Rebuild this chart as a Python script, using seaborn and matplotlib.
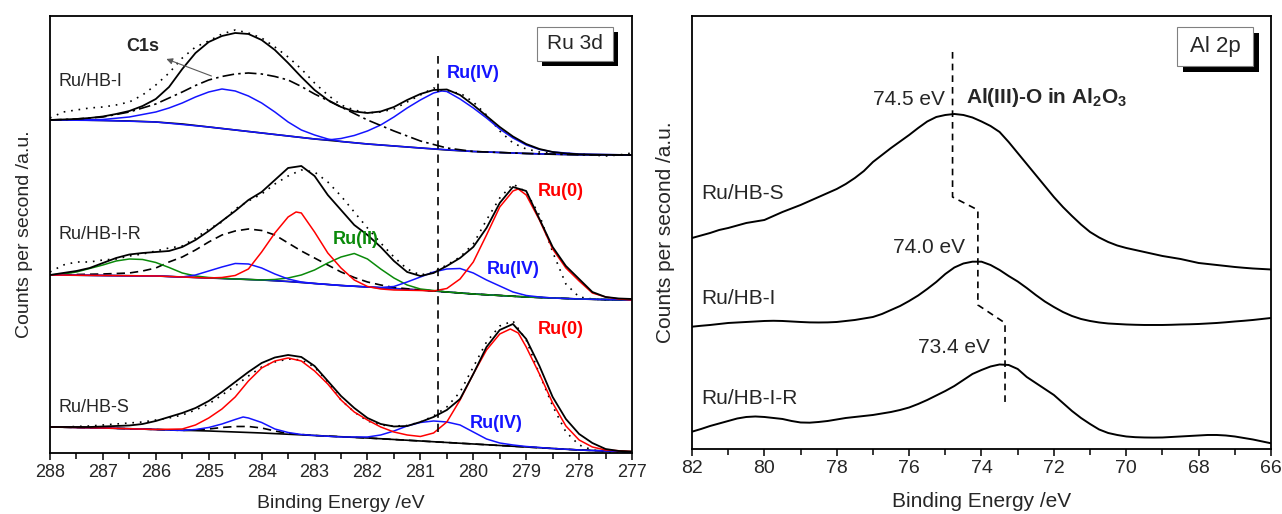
import numpy as np
import matplotlib
matplotlib.use("Agg")
import matplotlib.pyplot as plt
import seaborn as sns
from matplotlib.patches import Rectangle
from matplotlib.ticker import MultipleLocator

# ---------------- Ru 3d (left) ----------------
E_grid = np.linspace(288, 277, 45)   # 0.25 eV sampling of envelopes / raw data

# Ru/HB-I (top spectrum)
I_top_env = [35, 35.5, 36, 37, 38.5, 41, 44, 49, 56, 68, 86, 102, 113, 119, 122, 121, 115, 105, 92, 78,
             65, 55, 48, 43.5, 42, 43.5, 48, 55, 61, 65, 65.5, 60, 50, 39, 28, 18.5, 11, 6, 3, 1.5,
             0.7, 0.4, 0.2, 0.1, 0]
I_top_raw = [37, 43, 45, 47, 48, 50, 53, 60, 70, 82, 97, 108, 114, 121, 125, 122, 117, 108, 98, 86,
             72, 60, 50, 45, 42, 43, 46, 53, 60, 67, 63, 62, 53, 40, 24, 12, 6, 3, 2, 1.5,
             1, 0, -1, 0, 2]
E_top_bg = [288, 287.5, 287, 286.5, 286, 285.5, 285, 284.5, 284, 283.5, 283, 282.5, 282, 281.5, 281,
            280.5, 280, 279.5, 279, 278.5, 278, 277.5, 277]
I_top_bg = [35, 35, 34.5, 34, 33, 31, 28, 25, 22, 19, 16, 13.5, 11, 9, 7, 5, 3.5, 2.5, 1.5, 0.7, 0.2, 0, 0]
E_top_c1s = [288, 287.5, 287, 286.5, 286, 285.75, 285.5, 285.25, 285, 284.75, 284.5, 284.25, 284, 283.75,
             283.5, 283.25, 283, 282.75, 282.5, 282, 281.5, 281, 280.5, 280, 279.5, 279, 278, 277]
I_top_c1s = [35, 36, 38, 43, 51, 57, 63, 69.5, 75, 78.5, 81, 82, 81, 78.5, 75, 68.5, 61, 54.5, 48, 35, 24,
             14, 7, 3.5, 2.5, 1.5, 0.2, 0]
E_top_blue1 = [288, 287.5, 287, 286.5, 286, 285.75, 285.5, 285.25, 285, 284.75, 284.5, 284.25, 284, 283.75,
               283.5, 283.25, 283, 282.75, 282.5, 282, 281.5, 281, 280, 279, 278, 277]
I_top_blue1 = [35, 35, 35.5, 38, 43, 47, 52, 58, 63, 66, 64, 59, 52, 43, 33, 25, 20, 16, 13.5, 11, 9, 7,
               3.5, 1.5, 0.2, 0]
E_top_blue2 = [288, 287, 286, 285, 284, 283, 282.75, 282.5, 282.25, 282, 281.75, 281.5, 281.25, 281, 280.75,
               280.6, 280.5, 280.25, 280, 279.75, 279.5, 279.25, 279, 278.75, 278.5, 278, 277]
I_top_blue2 = [35, 34.5, 33, 28, 22, 16, 15, 16.5, 19.5, 24, 30, 38, 47, 55, 62, 64, 63.5, 56, 47, 37, 26,
               17, 10, 5.5, 3, 1, 0]

# Ru/HB-I-R (middle spectrum)
I_mid_env = [25, 27, 29, 32, 37, 42, 45.5, 47, 48, 49, 53, 60, 69, 79, 89, 100, 108, 120, 132, 134,
             124, 105, 90, 75, 65, 53, 39, 28, 24, 27, 34, 42, 53, 72, 97, 113, 109, 81, 53, 34,
             21, 8, 3, 1.5, 1]
I_mid_raw = [28, 35, 38, 38, 40, 41, 44, 46, 49, 52, 54, 62, 71, 78, 91, 99, 106, 116, 124, 130,
             128, 118, 104, 88, 72, 57, 43, 31, 25, 28, 35, 43, 56, 80, 102, 116, 108, 85, 48, 16,
             3, 1, 0, 0, 1]
E_mid_bg = [288, 287, 286, 285, 284, 283.5, 283, 282.5, 282, 281.5, 281, 280.5, 280, 279.5, 279, 278.5,
            278, 277.5, 277]
I_mid_bg = [25, 24.5, 24, 22, 20, 18.5, 16.5, 14.5, 13, 11.5, 10, 8, 6, 4.5, 3, 2, 1, 0.3, 0]
E_mid_blue = [288, 287, 286, 285.5, 285.25, 285, 284.75, 284.5, 284.25, 284, 283.75, 283.5, 283.25, 283,
              282.5, 282, 281.75, 281.5, 281.25, 281, 280.75, 280.5, 280.25, 280, 279.75, 279.5, 279.25,
              279, 278.75, 278.5, 278, 277]
I_mid_blue = [25, 24.5, 24, 23, 25, 29, 33, 36.5, 36, 32, 26, 21, 18, 16.5, 14.5, 13, 12.5, 13.5, 18, 23,
              28, 31, 31.5, 27, 20, 14, 8, 4.5, 3, 2, 1, 0]
E_mid_green = [288, 287.75, 287.5, 287.25, 287, 286.75, 286.5, 286.25, 286, 285.75, 285.5, 285.25, 285,
               284.5, 284, 283.75, 283.5, 283.25, 283, 282.75, 282.5, 282.25, 282, 281.75, 281.5, 281.25,
               281, 280.5, 280, 279, 278, 277]
I_mid_green = [25, 26, 28, 31.5, 35, 39, 41, 40.5, 37.5, 32.5, 27, 24, 22.5, 21, 20, 20.5, 22, 25, 30, 37,
               43, 46.5, 41, 31, 22, 15, 11, 8, 6, 3, 1, 0]
E_mid_red = [288, 287, 286, 285, 284.75, 284.5, 284.25, 284, 283.75, 283.5, 283.35, 283.25, 283, 282.75,
             282.5, 282.25, 282, 281.75, 281.5, 281, 280.75, 280.5, 280.25, 280, 279.75, 279.5, 279.25,
             279.15, 279, 278.75, 278.5, 278.25, 278, 277.75, 277.5, 277.25, 277]
I_mid_red = [25, 24.5, 24, 22, 22.5, 24.5, 31, 48, 67, 83, 88, 87, 68, 47, 32, 20, 13.5, 11, 10, 9.5, 9,
             11.5, 21, 38, 65, 93, 109, 111, 105, 80, 51, 32, 19, 7, 3, 1, 0]
E_mid_dash = [288, 287, 286.5, 286.25, 286, 285.75, 285.5, 285.25, 285, 284.75, 284.5, 284.25, 284, 283.75,
              283.5, 283.25, 283, 282.75, 282.5, 282.25, 282, 281.75, 281.5, 281, 280.5, 280, 279, 278, 277]
I_mid_dash = [25, 26, 27, 29, 32, 38, 43, 50, 58, 65, 69, 71, 69.5, 65, 57, 49, 42, 35, 28, 22.5, 18, 15,
              12.5, 10, 8, 6, 3, 1, 0]

# Ru/HB-S (bottom spectrum)
I_bot_env = [25, 25, 25, 25, 25.5, 26, 26.5, 28, 31, 35, 39, 44, 51, 60, 70, 80, 89, 94.5, 97, 95,
             86, 71, 56, 44, 34, 28, 25.5, 26, 30, 35, 42, 53, 78, 105, 122, 128, 113, 86, 55, 33,
             18, 9, 3, 1, 0.5]
I_bot_raw = [25, 25, 25.5, 26, 27, 28, 29, 30, 32, 34, 37, 42, 48, 57, 66, 76, 85, 90, 93, 92,
             85, 70, 52, 40, 31, 27, 26, 26.5, 30, 36, 45, 60, 85, 110, 126, 131, 112, 78, 46, 20,
             7, 2, 0, 0, 0]
E_bot_bg = [288, 287, 286, 285, 284, 283, 282, 281, 280, 279, 278, 277.5, 277]
I_bot_bg = [25, 24, 22.5, 21, 19, 16.5, 14, 11, 8, 5, 2, 1, 0]
E_bot_red = [288, 287, 286, 285.5, 285.25, 285, 284.75, 284.5, 284.25, 284, 283.75, 283.5, 283.25, 283,
             282.75, 282.5, 282.25, 282, 281.75, 281.5, 281.25, 281, 280.75, 280.5, 280.25, 280, 279.75,
             279.5, 279.3, 279.15, 279, 278.75, 278.5, 278.25, 278, 277.75, 277.5, 277]
I_bot_red = [25, 24, 22.5, 23, 27, 34, 43, 55, 71, 84, 91, 94, 91, 81, 68, 52, 40, 32, 25, 20, 17, 15.5,
             19, 30, 52, 78, 102, 118, 123, 119, 105, 78, 49, 26, 12, 5, 2, 0.5]
E_bot_blue = [288, 287, 286, 285.5, 285.25, 285, 284.75, 284.5, 284.35, 284.25, 284, 283.75, 283.5, 283.25,
              283, 282.5, 282, 281.75, 281.5, 281.25, 281, 280.75, 280.5, 280.25, 280, 279.75, 279.5,
              279.25, 279, 278.5, 278, 277]
I_bot_blue = [25, 24, 22.5, 21.5, 22.5, 24.5, 28, 32.5, 35, 34, 29.5, 23, 19.5, 17.5, 16.5, 15, 15, 17, 21,
              26, 29.5, 31, 30, 27, 20, 13, 9, 7, 5.5, 3.5, 2, 0]
E_bot_dash = [288, 287, 286, 285.5, 285.25, 285, 284.75, 284.5, 284.25, 284, 283.75, 283.5, 283, 282, 281,
              280, 279, 278, 277]
I_bot_dash = [25, 24, 22.5, 21.5, 22, 23, 24.5, 25.5, 25.5, 24, 21, 18.5, 16.5, 14, 11, 8, 5, 2, 0]

ru_samples = ["Ru/HB-I", "Ru/HB-I-R", "Ru/HB-S"]
ru_offsets = [298, 153, 1]          # vertical stacking of the spectra
ru4_line = 280.67                   # Ru(IV) reference position

# ---------------- Al 2p (right) ----------------
E_al = np.linspace(82, 66, 65)      # 0.25 eV sampling
I_al_S = [32, 34.5, 37, 40, 42, 44.5, 47, 48.5, 50, 54, 58, 61.5, 65, 69, 73, 77, 81, 86, 92, 99,
          108, 115, 122, 128.5, 135, 142, 148.5, 153, 155, 156, 155, 152.5, 148.5, 144, 138, 128, 117, 106, 95, 84,
          73, 63, 54, 45.5, 38, 32.5, 28, 24.5, 22, 20, 18, 16, 14, 12.5, 11, 9, 7, 6, 5, 4,
          3, 2.2, 1.5, 1, 0.5]
I_al_I = [0.3, 1.2, 2, 3, 4, 4.5, 5, 5.5, 6, 6.2, 6, 5.5, 5, 4.6, 4.5, 4.6, 5, 6, 7, 8.5,
          10, 13, 17, 21, 26, 31.5, 38, 45, 53, 59.5, 63.5, 65.3, 65.3, 62, 57, 51, 45.5, 39, 32, 25.5,
          20, 15, 11, 8, 6, 4.5, 3.5, 3, 2.5, 2.2, 2, 2, 2, 2.2, 2.5, 2.7, 3, 3.5, 4, 4.7,
          5.5, 6.2, 7, 8, 9]
I_al_R = [12.3, 15, 18, 20.5, 23, 25.5, 27, 27.5, 27, 26, 25, 23, 21.5, 21.3, 22, 23, 24.5, 26, 27, 28,
          29, 30.5, 32, 34, 36.5, 40, 44, 48.5, 53, 58, 64, 70, 74, 77.5, 79.5, 79, 75, 67, 61, 55,
          49, 41, 33, 26, 20, 14.5, 11, 9, 7.5, 6.8, 6.5, 6.4, 6.5, 7, 7.5, 8, 8.5, 9, 9, 8.5,
          7.5, 6, 4.5, 2.6, 0.7]
al_samples = ["Ru/HB-S", "Ru/HB-I", "Ru/HB-I-R"]
al_offsets = [179, 122, 5]
al_peaks = [74.8, 74.1, 73.35]
al_peak_labels = ["74.5 eV", "74.0 eV", "73.4 eV"]

sns.set_style("ticks")
plt.rcParams['font.family'] = ['Liberation Sans', 'DejaVu Sans']
plt.rcParams['mathtext.fontset'] = 'custom'
plt.rcParams['mathtext.rm'] = 'Liberation Sans'
plt.rcParams['mathtext.bf'] = 'Liberation Sans:bold'

BLUE, RED, GREEN = '#1414ff', '#ff0000', '#0a8a0a'


def trace(ax, x, y, base, **kw):
    sns.lineplot(x=x, y=np.asarray(y, dtype=float) + base, ax=ax, sort=False, estimator=None, **kw)


def label_box(ax, text, x0, y0, w, h, dx, dy, size):
    ax.add_patch(Rectangle((x0 + dx, y0 - dy), w, h, transform=ax.transAxes, facecolor='black',
                           edgecolor='none', zorder=5, clip_on=False))
    ax.add_patch(Rectangle((x0, y0), w, h, transform=ax.transAxes, facecolor='white',
                           edgecolor='0.5', lw=0.8, zorder=6, clip_on=False))
    ax.text(x0 + w / 2, y0 + h / 2, text, transform=ax.transAxes, ha='center', va='center',
            fontsize=size, zorder=7)


fig = plt.figure(figsize=(12.82, 5.14), dpi=100)
ax1 = fig.add_axes([0.0390, 0.1187, 0.4540, 0.8502])
ax2 = fig.add_axes([0.5398, 0.1265, 0.4516, 0.8424])

raw_ls = (0, (1, 3.5))
top, mid, bot = ru_offsets

# top spectrum
trace(ax1, E_grid, I_top_raw, top, color='black', lw=1.2, linestyle=raw_ls)
trace(ax1, E_top_bg, I_top_bg, top, color='black', lw=1.2)
trace(ax1, E_top_blue1, I_top_blue1, top, color=BLUE, lw=1.1)
trace(ax1, E_top_blue2, I_top_blue2, top, color=BLUE, lw=1.1)
trace(ax1, E_top_c1s, I_top_c1s, top, color='black', lw=1.2, linestyle=(0, (7, 2.5, 1.5, 2.5)))
trace(ax1, E_grid, I_top_env, top, color='black', lw=1.3)

# middle spectrum
trace(ax1, E_grid, I_mid_raw, mid, color='black', lw=1.2, linestyle=raw_ls)
trace(ax1, E_mid_bg, I_mid_bg, mid, color='black', lw=1.2)
trace(ax1, E_mid_bg, I_mid_bg, mid, color=BLUE, lw=1.0)
trace(ax1, E_mid_dash, I_mid_dash, mid, color='black', lw=1.2, linestyle=(0, (5, 3)))
trace(ax1, E_mid_green, I_mid_green, mid, color=GREEN, lw=1.1)
trace(ax1, E_mid_blue, I_mid_blue, mid, color=BLUE, lw=1.1)
trace(ax1, E_mid_red, I_mid_red, mid, color=RED, lw=1.1)
trace(ax1, E_grid, I_mid_env, mid, color='black', lw=1.3)

# bottom spectrum
trace(ax1, E_grid, I_bot_raw, bot, color='black', lw=1.2, linestyle=raw_ls)
trace(ax1, E_bot_bg, I_bot_bg, bot, color='black', lw=1.2)
trace(ax1, E_bot_dash, I_bot_dash, bot, color='black', lw=1.2, linestyle=(0, (5, 3)))
trace(ax1, E_bot_blue, I_bot_blue, bot, color=BLUE, lw=1.1)
trace(ax1, E_bot_red, I_bot_red, bot, color=RED, lw=1.1)
trace(ax1, E_grid, I_bot_env, bot, color='black', lw=1.3)

ax1.axvline(ru4_line, ymin=0.048, ymax=0.908, color='black', lw=1.2, linestyle=(0, (5, 3.5)))

ax1.set_xlim(288, 277)
ax1.set_ylim(0, 437)
for name, y in zip(ru_samples, [371, 218, 45]):
    ax1.text(287.83, y, name, fontsize=13, ha='left', va='center')

bold = dict(fontsize=13, fontweight='bold', ha='left', va='center')
ax1.text(280.5, 379, "Ru(IV)", color=BLUE, **bold)
ax1.text(278.78, 261, "Ru(0)", color=RED, **bold)
ax1.text(282.65, 213, "Ru(II)", color=GREEN, **bold)
ax1.text(279.74, 183, "Ru(IV)", color=BLUE, **bold)
ax1.text(278.78, 123, "Ru(0)", color=RED, **bold)
ax1.text(280.06, 29, "Ru(IV)", color=BLUE, **bold)
ax1.text(286.25, 406, "C1s", fontsize=13, fontweight='bold', ha='center', va='center')
ax1.annotate("", xy=(285.85, 395), xytext=(284.9, 376),
             arrowprops=dict(arrowstyle='-|>', color='0.35', lw=0.8, mutation_scale=9))
label_box(ax1, "Ru 3d", 0.837, 0.897, 0.130, 0.078, 0.009, 0.012, 15)

# Al 2p
for I_al, off in zip([I_al_S, I_al_I, I_al_R], al_offsets):
    trace(ax2, E_al, I_al, off, color='black', lw=1.4)

for name, y in zip(al_samples, [255, 150, 50]):
    ax2.text(81.75, y, name, fontsize=15, ha='left', va='center')

dash2 = dict(color='black', lw=1.2, linestyle=(0, (4, 3)))
ax2.plot([al_peaks[0], al_peaks[0], al_peaks[1], al_peaks[1], al_peaks[2], al_peaks[2]],
         [397, 252, 239, 144, 126, 46], **dash2)
for lab, x, y in zip(al_peak_labels, [75.02, 74.46, 73.77], [349, 201, 101]):
    ax2.text(x, y, lab, fontsize=15, ha='right', va='center')
ax2.text(74.42, 351, r"Al(III)-O in Al$_\mathregular{2}$O$_\mathregular{3}$", fontsize=15,
         fontweight='bold', ha='left', va='center')
label_box(ax2, "Al 2p", 0.838, 0.885, 0.131, 0.090, 0.010, 0.014, 16)

ax2.set_xlim(82, 66)
ax2.set_ylim(0, 433)

for ax, fs, lp in [(ax1, 13, 10), (ax2, 14, 11)]:
    ax.set_yticks([])
    ax.set_xlabel("Binding Energy /eV", fontsize=fs + 1, labelpad=lp)
    ax.set_ylabel("Counts per second /a.u.", fontsize=14 if ax is ax1 else 15, labelpad=12)
    ax.tick_params(axis='x', which='major', direction='out', length=5, width=1.1, labelsize=fs,
                   color='black', pad=3)
    ax.tick_params(axis='x', which='minor', direction='out', length=4, width=1.1, color='black')
    for s in ax.spines.values():
        s.set_visible(True)
        s.set_color('black')
        s.set_linewidth(1.3)

ax1.xaxis.set_major_locator(MultipleLocator(1))
ax1.xaxis.set_minor_locator(MultipleLocator(0.5))
ax2.xaxis.set_major_locator(MultipleLocator(2))
ax2.xaxis.set_minor_locator(MultipleLocator(1))

fig.savefig("out.png", dpi=100)
